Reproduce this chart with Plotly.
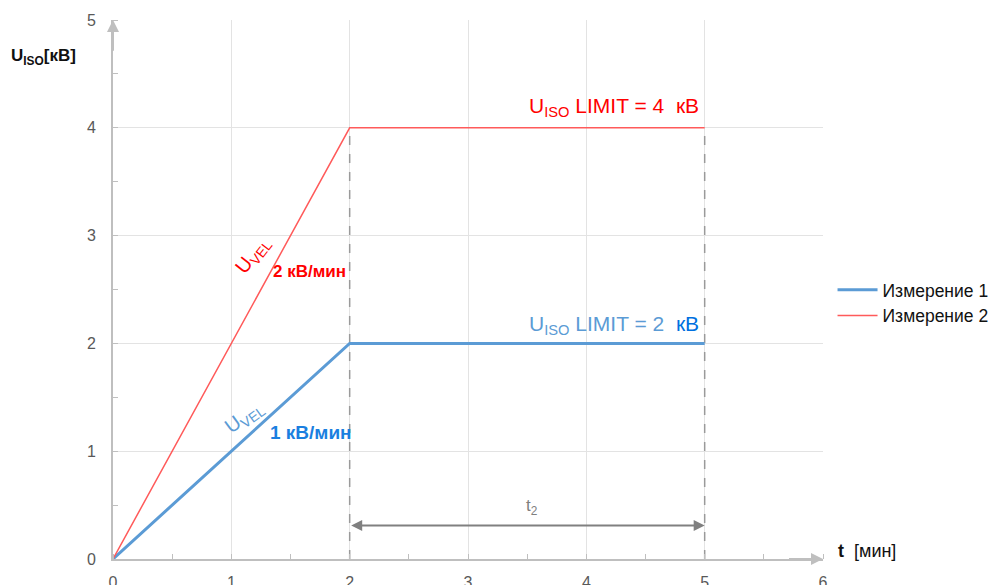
import plotly.graph_objects as go

# data
t_min = [0, 2, 5]
u_meas1 = [0, 2, 2]
u_meas2 = [0, 4, 4]
names = ['Измерение 1', 'Измерение 2']
dash_x = [2, 5]
dash_top = 4
t2_level = 0.31
x_ticks = [0, 1, 2, 3, 4, 5, 6]
y_ticks = [0, 1, 2, 3, 4, 5]

FONT = 'Liberation Sans, Arial, sans-serif'
BLUE = '#5b9bd5'
RED = '#ff5a5a'
GRAY = '#bfbfbf'

fig = go.Figure()

for xv in dash_x:
    fig.add_trace(go.Scatter(x=[xv, xv], y=[0, dash_top], mode='lines', showlegend=False,
                             line=dict(color='#9a9a9a', width=1.5, dash='dash'), hoverinfo='skip'))

fig.add_trace(go.Scatter(x=t_min, y=u_meas1, mode='lines', name=names[0],
                         line=dict(color=BLUE, width=3)))
fig.add_trace(go.Scatter(x=t_min, y=u_meas2, mode='lines', name=names[1],
                         line=dict(color=RED, width=1.5)))

ann = []
# axis arrows
ann.append(dict(x=0, y=5, ax=0, ay=4.7, xref='x', yref='y', axref='x', ayref='y', text='',
                showarrow=True, arrowhead=2, arrowsize=1.2, arrowwidth=2, arrowcolor=GRAY))
ann.append(dict(x=6, y=0, ax=5.7, ay=0, xref='x', yref='y', axref='x', ayref='y', text='',
                showarrow=True, arrowhead=2, arrowsize=1.2, arrowwidth=2, arrowcolor=GRAY))
# t2 arrow
ann.append(dict(x=dash_x[1], y=t2_level, ax=dash_x[0], ay=t2_level, xref='x', yref='y', axref='x', ayref='y',
                text='', showarrow=True, arrowhead=2, arrowside='end+start', arrowsize=1.1,
                arrowwidth=2, arrowcolor='#808080'))
ann.append(dict(x=3.54, y=0.48, xref='x', yref='y', text='t<sub>2</sub>', showarrow=False,
                font=dict(family=FONT, size=17, color='#7f7f7f')))
# limit labels
ann.append(dict(x=4.97, y=4.19, xref='x', yref='y', xanchor='right', showarrow=False,
                text='U<sub>ISO</sub> LIMIT = 4  кВ', font=dict(family=FONT, size=21, color='#ff0000')))
ann.append(dict(x=4.97, y=2.17, xref='x', yref='y', xanchor='right', showarrow=False,
                text='U<sub>ISO</sub> LIMIT = 2  <span style="color:#0070e0">кВ</span>',
                font=dict(family=FONT, size=21, color=BLUE)))
# rate labels
ann.append(dict(x=1.18, y=2.82, xref='x', yref='y', showarrow=False, textangle=-52,
                text='U<sub>VEL</sub>', font=dict(family=FONT, size=20, color='#ff0000')))
ann.append(dict(x=1.66, y=2.67, xref='x', yref='y', showarrow=False,
                text='<b>2 кВ/мин</b>', font=dict(family=FONT, size=17, color='#ff0000')))
ann.append(dict(x=1.11, y=1.31, xref='x', yref='y', showarrow=False, textangle=-36,
                text='U<sub>VEL</sub>', font=dict(family=FONT, size=20, color=BLUE)))
ann.append(dict(x=1.67, y=1.17, xref='x', yref='y', showarrow=False,
                text='<b>1 кВ/мин</b>', font=dict(family=FONT, size=19, color='#1a7fe0')))
# axis titles
ann.append(dict(x=-0.146, y=0.955, xref='paper', yref='paper', xanchor='left', showarrow=False,
                text='<b>U<sub>ISO</sub>[кВ]</b>', font=dict(family=FONT, size=17, color='#111111')))
ann.append(dict(x=1.019, y=-0.008, xref='paper', yref='paper', xanchor='left', showarrow=False,
                text='<b>t</b>  [мин]', font=dict(family=FONT, size=18, color='#111111')))

fig.update_layout(
    width=997, height=585,
    margin=dict(l=105, r=181, t=12, b=34),
    paper_bgcolor='white', plot_bgcolor='white',
    font=dict(family=FONT, size=16, color='#595959'),
    showlegend=True,
    legend=dict(x=1.012, y=0.475, xanchor='left', yanchor='middle',
                font=dict(family=FONT, size=17.5, color='#111111'),
                bgcolor='rgba(0,0,0,0)', itemwidth=40, tracegroupgap=8),
    annotations=ann,
)
fig.update_xaxes(range=[0, 6], tickvals=x_ticks, showgrid=True, gridcolor='#e3e3e3', gridwidth=1,
                 showline=True, linecolor=GRAY, linewidth=2, zeroline=False, ticks='',
                 ticklabelstandoff=8, ticklabeloverflow='allow', automargin=False,
                 minor=dict(ticks='inside', ticklen=5, tickcolor=GRAY, dtick=0.5, showgrid=False))
fig.update_yaxes(range=[0, 5], tickvals=y_ticks, showgrid=True, gridcolor='#e3e3e3', gridwidth=1,
                 showline=True, linecolor=GRAY, linewidth=2, zeroline=False, ticks='',
                 ticklabelstandoff=12, automargin=False,
                 minor=dict(ticks='inside', ticklen=5, tickcolor=GRAY, dtick=0.5, showgrid=False))

fig.write_html("out.html")
